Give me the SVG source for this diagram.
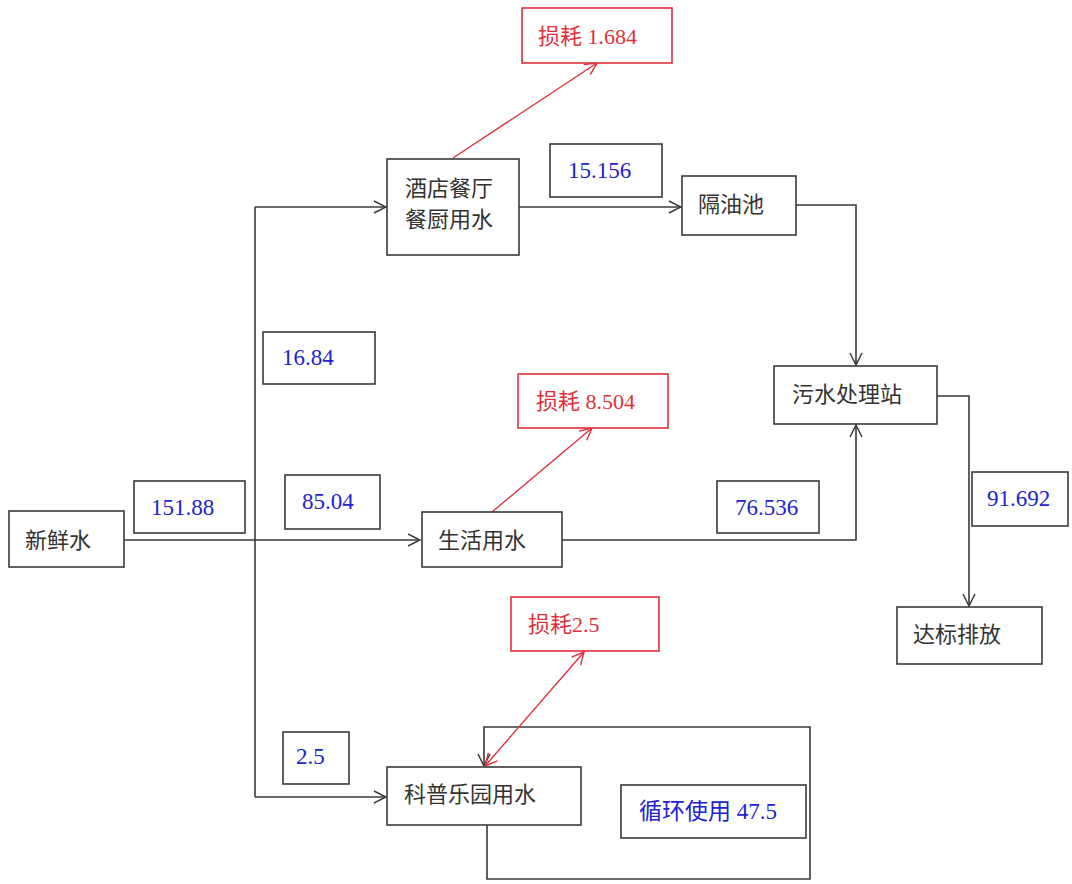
<svg xmlns="http://www.w3.org/2000/svg" width="1072" height="884" viewBox="0 0 1072 884">
  <defs>
    <style>
      .node { fill: #ffffff; stroke: #3a3a3a; stroke-width: 1.6; }
      .loss { fill: #ffffff; stroke: #e0303a; stroke-width: 1.6; }
      .t { font-family: "Liberation Serif", "Noto Sans CJK SC", serif; font-size: 22px; fill: #333333; }
      .num { fill: #2222d0; font-size: 23px; }
      .red { fill: #e0303a; }
      .wire { fill: none; stroke: #3a3a3a; stroke-width: 1.6; }
      .rwire { fill: none; stroke: #e0303a; stroke-width: 1.4; }
    </style>
    <marker id="arrow" viewBox="0 0 14 14" refX="13" refY="7" markerWidth="14" markerHeight="14" markerUnits="userSpaceOnUse" orient="auto">
      <path d="M1,1 L13,7 L1,13" fill="none" stroke="#3a3a3a" stroke-width="1.5"/>
    </marker>
    <marker id="arrowRed" viewBox="0 0 14 14" refX="13" refY="7" markerWidth="14" markerHeight="14" markerUnits="userSpaceOnUse" orient="auto-start-reverse">
      <path d="M1,1 L13,7 L1,13" fill="none" stroke="#e0303a" stroke-width="1.4"/>
    </marker>
  </defs>
  <rect width="1072" height="884" fill="#ffffff"/>

  <!-- connectors -->
  <g id="connectors">
    <path class="wire" d="M124,540 L420,540" marker-end="url(#arrow)"/>
    <path class="wire" d="M255,207 L255,797"/>
    <path class="wire" d="M255,207 L386,207" marker-end="url(#arrow)"/>
    <path class="wire" d="M255,797 L386,797" marker-end="url(#arrow)"/>
    <path class="wire" d="M519,207 L681,207" marker-end="url(#arrow)"/>
    <path class="wire" d="M796,205 L856,205 L856,365" marker-end="url(#arrow)"/>
    <path class="wire" d="M562,540 L856,540 L856,425" marker-end="url(#arrow)"/>
    <path class="wire" d="M937,396 L969,396 L969,606" marker-end="url(#arrow)"/>
    <path class="wire" d="M487,825 L487,879 L810,879 L810,727 L484,727 L484,766" marker-end="url(#arrow)"/>
    <path class="rwire" d="M453,158 L597,63" marker-end="url(#arrowRed)"/>
    <path class="rwire" d="M492,512 L592,428" marker-end="url(#arrowRed)"/>
    <path class="rwire" d="M485,766 L584,652" marker-start="url(#arrowRed)" marker-end="url(#arrowRed)"/>
  </g>

  <!-- process nodes -->
  <g id="fresh-water">
    <rect class="node" x="9" y="511" width="115" height="56"/>
    <text class="t" x="25" y="548">新鲜水</text>
  </g>
  <g id="hotel-kitchen">
    <rect class="node" x="387" y="159" width="132" height="96"/>
    <text class="t" x="405" y="196">酒店餐厅</text>
    <text class="t" x="405" y="227">餐厨用水</text>
  </g>
  <g id="grease-trap">
    <rect class="node" x="682" y="176" width="114" height="59"/>
    <text class="t" x="698" y="212">隔油池</text>
  </g>
  <g id="sewage-station">
    <rect class="node" x="774" y="366" width="163" height="58"/>
    <text class="t" x="792" y="402">污水处理站</text>
  </g>
  <g id="domestic-water">
    <rect class="node" x="422" y="512" width="140" height="55"/>
    <text class="t" x="438" y="548">生活用水</text>
  </g>
  <g id="discharge">
    <rect class="node" x="897" y="607" width="145" height="57"/>
    <text class="t" x="913" y="642">达标排放</text>
  </g>
  <g id="park-water">
    <rect class="node" x="387" y="767" width="194" height="58"/>
    <text class="t" x="404" y="802">科普乐园用水</text>
  </g>

  <!-- loss nodes -->
  <g id="loss-hotel">
    <rect class="loss" x="522" y="8" width="150" height="55"/>
    <text class="t red" x="538" y="44">损耗 1.684</text>
  </g>
  <g id="loss-domestic">
    <rect class="loss" x="518" y="374" width="150" height="54"/>
    <text class="t red" x="536" y="409">损耗 8.504</text>
  </g>
  <g id="loss-park">
    <rect class="loss" x="511" y="597" width="148" height="54"/>
    <text class="t red" x="528" y="632">损耗2.5</text>
  </g>

  <!-- flow value labels -->
  <g id="flow-151-88">
    <rect class="node" x="134" y="481" width="111" height="52"/>
    <text class="t num" x="151" y="515">151.88</text>
  </g>
  <g id="flow-85-04">
    <rect class="node" x="285" y="475" width="95" height="54"/>
    <text class="t num" x="302" y="509">85.04</text>
  </g>
  <g id="flow-16-84">
    <rect class="node" x="263" y="332" width="112" height="52"/>
    <text class="t num" x="282" y="365">16.84</text>
  </g>
  <g id="flow-15-156">
    <rect class="node" x="550" y="144" width="112" height="53"/>
    <text class="t num" x="568" y="178">15.156</text>
  </g>
  <g id="flow-76-536">
    <rect class="node" x="717" y="481" width="102" height="52"/>
    <text class="t num" x="735" y="515">76.536</text>
  </g>
  <g id="flow-91-692">
    <rect class="node" x="972" y="472" width="96" height="54"/>
    <text class="t num" x="987" y="506">91.692</text>
  </g>
  <g id="flow-2-5">
    <rect class="node" x="283" y="732" width="66" height="52"/>
    <text class="t num" x="296" y="764">2.5</text>
  </g>
  <g id="flow-recycle">
    <rect class="node" x="621" y="785" width="185" height="53"/>
    <text class="t num" x="639" y="819">循环使用 47.5</text>
  </g>
</svg>
